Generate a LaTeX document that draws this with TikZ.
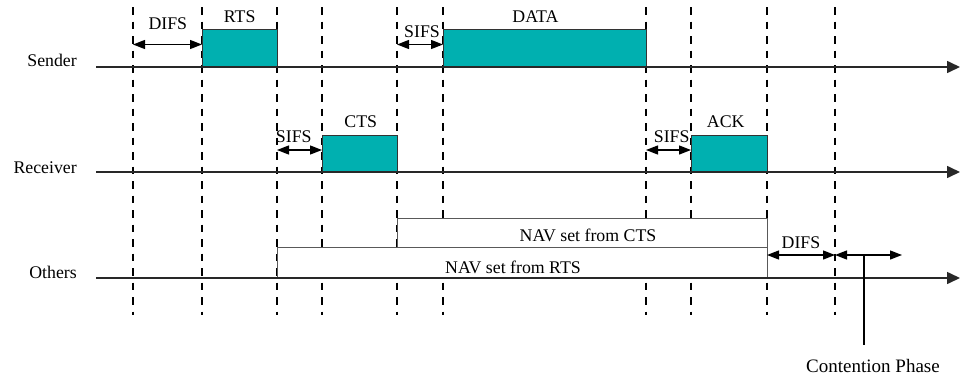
\documentclass[tikz,border=0pt]{standalone}
\usepackage{fontspec}
\setmainfont{Liberation Serif}
\usetikzlibrary{arrows.meta,fit}
\definecolor{pkt}{RGB}{0,176,176}
\definecolor{axisc}{RGB}{40,40,40}
\begin{document}
\begin{tikzpicture}[x=1pt,y=-1pt,
  font=\fontsize{17.8}{20}\selectfont,
  timeline/.style={line width=1.6pt, draw=axisc, -{Triangle[length=13pt,width=12pt]}},
  tick/.style={line width=1.3pt, draw=black, dash pattern=on 7.5pt off 7pt},
  frame/.style={draw=black!80, line width=0.9pt, fill=pkt, inner sep=0pt, outer sep=0pt},
  navbox/.style={draw=black!65, line width=1pt, fill=white, inner sep=0pt, outer sep=0pt},
  span/.style={line width=1.3pt, {Triangle[length=12pt,width=9pt]}-{Triangle[length=12pt,width=9pt]}},
  lbl/.style={inner sep=0pt, anchor=base},
  rowlbl/.style={inner sep=0pt, anchor=base east}]
\useasboundingbox (0,0) rectangle (964,375);

% time marks (top and bottom of each dashed line)
\foreach \n/\x in {a/133,b/202,c/277,d/322,e/397,f/443,g/646,h/691,i/767,j/835}{
  \coordinate (\n t) at (\x,7);
  \coordinate (\n b) at (\x,315);
}
\foreach \n in {a,b,c,d,e,f,g,h,i,j}{ \draw[tick] (\n t) -- (\n b); }

% NAV boxes (cover the dashed lines)
\node[navbox, fit={(397,218) (767,247)}] (navcts) {};
\node[navbox, fit={(277,247) (767,278)}] (navrts) {};
\node[lbl] (navctsl) at (588,241) {NAV set from CTS};
\node[lbl] (navrtsl) at (513,273) {NAV set from RTS};

% packets
\node[frame, fit={(202,29) (277,67)}] (rts) {};
\node[frame, fit={(443,29) (646,67)}] (data) {};
\node[frame, fit={(322,135) (397,172)}] (cts) {};
\node[frame, fit={(691,135) (767,172)}] (ack) {};
\node[lbl] (rtsl) at (239.7,22.5) {RTS};
\node[lbl] (datal) at (535.5,22.5) {DATA};
\node[lbl] (ctsl) at (360.8,127) {CTS};
\node[lbl] (ackl) at (725.7,127) {ACK};

% timelines
\coordinate (s0) at (96,67);   \coordinate (s1) at (960,67);
\coordinate (r0) at (96,172);  \coordinate (r1) at (960,172);
\coordinate (o0) at (96,278);  \coordinate (o1) at (960,278);
\draw[timeline] (s0) -- (s1);
\draw[timeline] (r0) -- (r1);
\draw[timeline] (o0) -- (o1);
\node[rowlbl] (sender) at (77,66.5) {Sender};
\node[rowlbl] (receiver) at (77,173) {Receiver};
\node[rowlbl] (others) at (77,278) {Others};

% interframe spaces
\coordinate (d1a) at (133,44.5); \coordinate (d1b) at (202,44.5);
\draw[span] (d1a) -- (d1b);
\node[lbl] (difs1) at (167.8,29) {DIFS};
\coordinate (s1a) at (397,44.5); \coordinate (s1b) at (443,44.5);
\draw[span] (s1a) -- (s1b);
\node[lbl] (sifs1) at (422,37) {SIFS};
\coordinate (s2a) at (277,150); \coordinate (s2b) at (322,150);
\draw[span] (s2a) -- (s2b);
\node[lbl] (sifs2) at (293.8,142.5) {SIFS};
\coordinate (s3a) at (646,150); \coordinate (s3b) at (691,150);
\draw[span] (s3a) -- (s3b);
\node[lbl] (sifs3) at (671.7,142.5) {SIFS};
\coordinate (d2a) at (767,255); \coordinate (d2b) at (835,255);
\draw[span] (d2a) -- (d2b);
\node[lbl] (difs2) at (801,248) {DIFS};

% contention phase
\coordinate (c1a) at (835,255); \coordinate (c1b) at (902,255);
\draw[span] (c1a) -- (c1b);
\coordinate (cp) at (864,255); \coordinate (cpe) at (864,345);
\draw[line width=1.1pt] (cp) -- (cpe);
\node[lbl, font=\fontsize{19}{21}\selectfont] (cpl) at (873,372) {Contention Phase};
\end{tikzpicture}
\end{document}
